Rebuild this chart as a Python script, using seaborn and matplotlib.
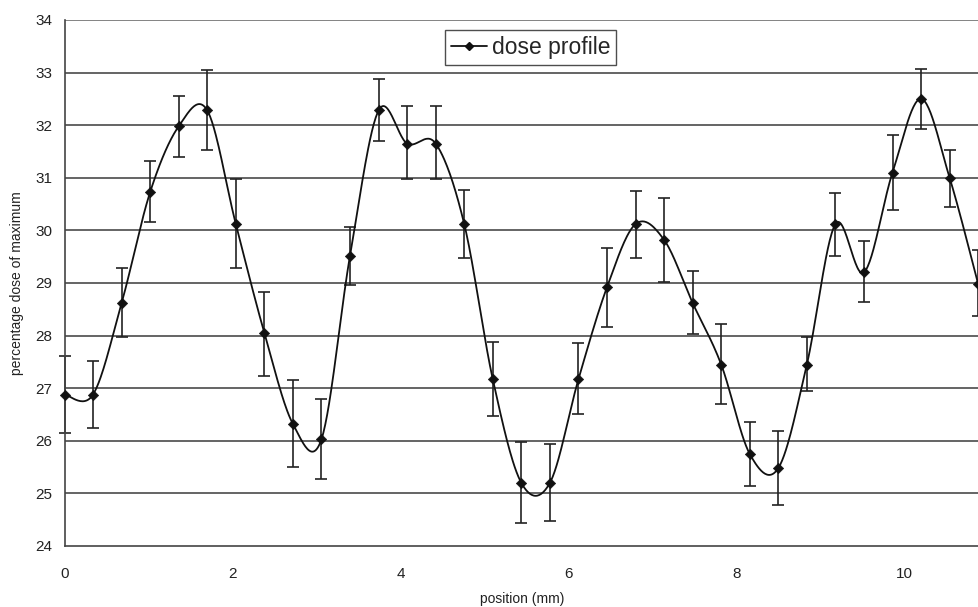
import numpy as np
import pandas as pd
import matplotlib
matplotlib.use('Agg')
import matplotlib.pyplot as plt
import seaborn as sns
from matplotlib.lines import Line2D

# dose profile readings
position = [0.00, 0.34, 0.68, 1.02, 1.36, 1.70, 2.04, 2.38, 2.72, 3.06, 3.40,
            3.74, 4.08, 4.42, 4.76, 5.10, 5.44, 5.78, 6.12, 6.46, 6.80, 7.14,
            7.48, 7.82, 8.16, 8.50, 8.84, 9.18, 9.52, 9.86, 10.20, 10.54, 10.88]
dose = [26.88, 26.88, 28.62, 30.73, 31.98, 32.28, 30.12, 28.05, 26.32, 26.03, 29.52,
        32.28, 31.65, 31.65, 30.12, 27.17, 25.20, 25.20, 27.17, 28.92, 30.12, 29.82,
        28.62, 27.45, 25.75, 25.48, 27.45, 30.12, 29.20, 31.10, 32.50, 31.00, 28.98]
err_high = [27.62, 27.52, 29.28, 31.32, 32.55, 33.05, 30.97, 28.83, 27.15, 26.80, 30.07,
            32.87, 32.37, 32.37, 30.77, 27.88, 25.98, 25.93, 27.85, 29.67, 30.75, 30.62,
            29.22, 28.22, 26.35, 26.18, 27.97, 30.72, 29.80, 31.82, 33.07, 31.53, 29.62]
err_low = [26.15, 26.25, 27.98, 30.15, 31.40, 31.52, 29.28, 27.23, 25.50, 25.27, 28.97,
           31.70, 30.97, 30.97, 29.47, 26.47, 24.43, 24.48, 26.50, 28.17, 29.48, 29.02,
           28.03, 26.70, 25.15, 24.78, 26.95, 29.52, 28.63, 30.38, 31.93, 30.45, 28.37]

df = pd.DataFrame({'position': position, 'dose': dose})


# smoothed line like a spreadsheet chart (Catmull-Rom through the points)
def smooth(x, y, n=30):
    x = np.asarray(x, float)
    y = np.asarray(y, float)
    px = np.concatenate([[x[0]], x, [x[-1]]])
    py = np.concatenate([[y[0]], y, [y[-1]]])
    xs, ys = [], []
    t = np.linspace(0, 1, n, endpoint=False)
    for i in range(1, len(px) - 2):
        p0x, p1x, p2x, p3x = px[i - 1:i + 3]
        p0y, p1y, p2y, p3y = py[i - 1:i + 3]
        # bezier control points
        c1x, c1y = p1x + (p2x - p0x) / 6, p1y + (p2y - p0y) / 6
        c2x, c2y = p2x - (p3x - p1x) / 6, p2y - (p3y - p1y) / 6
        b = [(1 - t) ** 3, 3 * (1 - t) ** 2 * t, 3 * (1 - t) * t ** 2, t ** 3]
        xs.append(b[0] * p1x + b[1] * c1x + b[2] * c2x + b[3] * p2x)
        ys.append(b[0] * p1y + b[1] * c1y + b[2] * c2y + b[3] * p2y)
    xs.append([x[-1]])
    ys.append([y[-1]])
    return np.concatenate(xs), np.concatenate(ys)


sx, sy = smooth(position, dose)
curve = pd.DataFrame({'position': sx, 'dose': sy})

sns.set_style('white')
plt.rcParams['font.family'] = ['Liberation Sans', 'DejaVu Sans']

fig = plt.figure(figsize=(9.79, 6.07), dpi=100)
ax = fig.add_axes([0.0659, 0.1005, 0.9341, 0.8666])

ax.set_ylim(24, 34)
ax.set_xlim(0, 10.89)
ax.set_yticks(range(24, 35))
ax.set_xticks([0, 2, 4, 6, 8, 10])
for v in range(25, 35):
    ax.axhline(v, color='#3a3a3a', lw=1.1, zorder=0)
ax.axhline(34, color='#8a8a8a', lw=1.3, zorder=0)

dose_arr = np.array(dose)
ax.errorbar(position, dose,
            yerr=[dose_arr - np.array(err_low), np.array(err_high) - dose_arr],
            fmt='none', ecolor='#222222', elinewidth=1.2, capsize=4, capthick=1.2,
            zorder=2, clip_on=False)

sns.lineplot(data=curve, x='position', y='dose', ax=ax, color='#111111', lw=1.3,
             sort=False, zorder=3)
sns.scatterplot(data=df, x='position', y='dose', ax=ax, marker='D', s=28,
                color='#111111', edgecolor='#111111', zorder=4, clip_on=False)

for side in ['top', 'right']:
    ax.spines[side].set_visible(False)
for side in ['left', 'bottom']:
    ax.spines[side].set_color('#444444')
    ax.spines[side].set_linewidth(1.2)

ax.tick_params(axis='both', which='major', direction='out', length=5, width=1,
               color='#444444', labelsize=11, labelcolor='#222222', pad=4)
ax.tick_params(axis='x', pad=10)
ax.set_xlabel('position (mm)', fontsize=10, color='#222222', labelpad=8)
ax.set_ylabel('percentage dose of maximum', fontsize=10, color='#222222', labelpad=8)

handle = Line2D([], [], color='#111111', lw=1.3, marker='D', markersize=4.5)
leg = ax.legend([handle], ['dose profile'], loc='upper left',
                bbox_to_anchor=(0.416, 0.98), frameon=True, fancybox=False,
                fontsize=16.5, handlelength=1.6, handletextpad=0.2,
                borderpad=0.25, borderaxespad=0)
leg.get_frame().set_edgecolor('#222222')
leg.get_frame().set_linewidth(1.0)

fig.savefig('out.png', dpi=100)
